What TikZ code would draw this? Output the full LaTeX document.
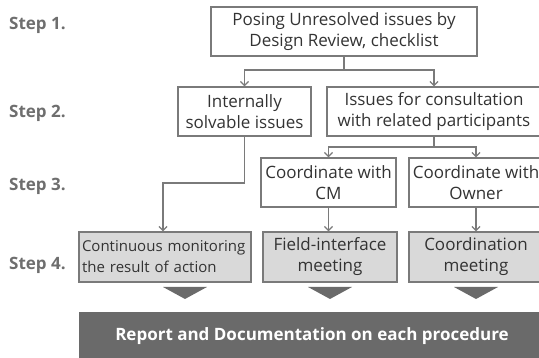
\documentclass[tikz,border=0pt]{standalone}
\usepackage{fontspec}
\setmainfont{Open Sans}
\usetikzlibrary{arrows.meta,positioning}

\definecolor{linegray}{HTML}{7A7A7A}
\definecolor{textgray}{HTML}{333333}
\definecolor{stepgray}{HTML}{6E6E6E}
\definecolor{boxfill}{HTML}{D9D9D9}
\definecolor{bargray}{HTML}{6A6A6A}

\begin{document}
\begin{tikzpicture}[x=1pt,y=-1pt,
  >={Straight Barb[length=4pt,width=8pt]},
  issuebox/.style={draw=linegray,line width=1.3pt,align=center,text=textgray,
    inner sep=0pt,minimum height=49pt,font=\fontsize{17}{21}\selectfont},
  meetbox/.style={issuebox,fill=boxfill},
  steplabel/.style={anchor=west,inner sep=0pt,text=stepgray,
    font=\fontsize{17}{19}\selectfont\bfseries},
  link/.style={draw=linegray,line width=1.3pt},
  droptri/.style={fill=bargray}]
  \useasboundingbox (0,0) rectangle (539,358);

  % step labels
  \node[steplabel] (step1) at (9,25) {Step 1.};
  \node[steplabel] (step2) at (9,113) {Step 2.};
  \node[steplabel] (step3) at (9,186) {Step 3.};
  \node[steplabel] (step4) at (9,265) {Step 4.};

  % boxes
  \node[issuebox,minimum width=266pt] (posing) at (344,31.5) {Posing Unresolved issues by\\Design Review, checklist};
  \node[issuebox,minimum width=133pt] (internal) at (244.5,111.5) {Internally\\solvable issues};
  \node[issuebox,minimum width=214pt] (consult) at (434,111.5) {Issues for consultation\\with related participants};
  \node[issuebox,minimum width=135pt] (withcm) at (328.5,182.5) {Coordinate with\\CM};
  \node[issuebox,minimum width=134pt] (withowner) at (476,182.5) {Coordinate with\\Owner};
  \node[meetbox,text width=166pt,inner xsep=3pt,minimum height=50pt,align=left,
    font=\fontsize{15}{21}\selectfont] (monitor) at (165,257) {Continuous monitoring\\the result of action};
  \node[meetbox,minimum width=134pt,minimum height=50pt] (fieldmeet) at (330,257) {Field-interface\\meeting};
  \node[meetbox,minimum width=134pt,minimum height=50pt] (coordmeet) at (476,257) {Coordination\\meeting};

  % report bar
  \node[fill=bargray,text=white,minimum width=466pt,minimum height=48pt,inner sep=0pt,
    font=\fontsize{17}{20}\selectfont\bfseries] (report) at (312,336) {Report and Documentation on each procedure};

  % connectors
  \coordinate (fork1) at (344,70);
  \coordinate (fork2) at (434,147);
  \coordinate (bend) at (163,183);
  \path[link] (posing.south) -- (fork1);
  \path[link,->] (fork1) -| (internal.north);
  \path[link,->] (fork1) -| (consult.north);
  \path[link] (consult.south) -- (fork2);
  \path[link,->] (fork2) -| (withcm.north);
  \path[link,->] (fork2) -| (withowner.north);
  \path[link,->] (withcm.south) -- (withcm.south |- fieldmeet.north);
  \path[link,->] (withowner.south) -- (withowner.south |- coordmeet.north);
  \path[link,->] (internal.south) |- (bend) -- (bend |- monitor.north);

  % down triangles
  \fill[droptri] (163,287) -- (207,287) -- (185,299) -- cycle;
  \fill[droptri] (308,287) -- (352,287) -- (330,299) -- cycle;
  \fill[droptri] (454,287) -- (498,287) -- (476,299) -- cycle;
\end{tikzpicture}
\end{document}
